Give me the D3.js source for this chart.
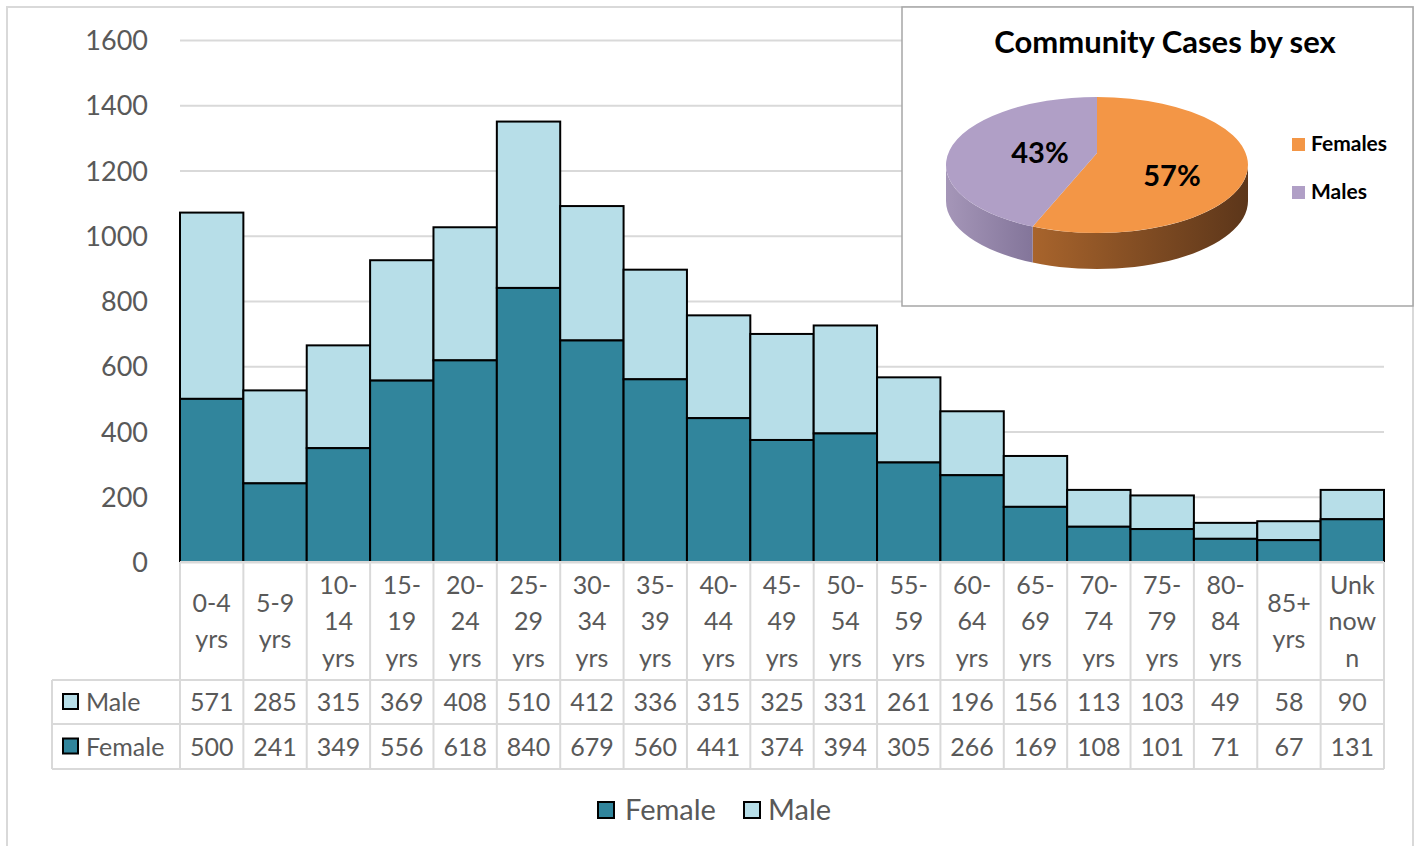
<!DOCTYPE html>
<html>
<head>
<meta charset="utf-8">
<script src="https://cdn.jsdelivr.net/npm/d3@7"></script>
<style>
  body { margin: 0; background: #fff; }
  svg { display: block; font-family: Lato, "Open Sans", sans-serif; }
</style>
</head>
<body>
<svg class="svg" width="1418" height="846"></svg>
<script>
// age groups, one entry per column, header lines as they wrap in the table
let ageLines = [['0-4','yrs'],['5-9','yrs'],['10-','14','yrs'],['15-','19','yrs'],['20-','24','yrs'],
    ['25-','29','yrs'],['30-','34','yrs'],['35-','39','yrs'],['40-','44','yrs'],['45-','49','yrs'],
    ['50-','54','yrs'],['55-','59','yrs'],['60-','64','yrs'],['65-','69','yrs'],['70-','74','yrs'],
    ['75-','79','yrs'],['80-','84','yrs'],['85+','yrs'],['Unk','now','n']];
let male   = [571,285,315,369,408,510,412,336,315,325,331,261,196,156,113,103,49,58,90];
let female = [500,241,349,556,618,840,679,560,441,374,394,305,266,169,108,101,71,67,131];
let yTicks = [0,200,400,600,800,1000,1200,1400,1600];

let pieLabels = ['Females','Males'];
let pieShare = [57,43];

let female_color = '#31859c', male_color = '#b7dee8', grid_color = '#d9d9d9', text_color = '#595959';
let pie_colors = ['#f39646','#b09fc6'];

let svg = d3.select('.svg');

// outer frame
svg.append('rect').attr('x',7).attr('y',7).attr('width',1406).attr('height',860)
    .attr('fill','none').attr('stroke',grid_color).attr('stroke-width',2);

let plotLeft = 180, plotRight = 1384, plotTop = 40, plotBottom = 562;
let x = d3.scaleBand().domain(d3.range(ageLines.length)).range([plotLeft,plotRight]).paddingInner(0);
let y = d3.scaleLinear().domain([0,1600]).range([plotBottom,plotTop]);

// y axis + gridlines
let yAxis = svg.append('g').attr('transform','translate('+plotLeft+',0)')
    .call(d3.axisLeft(y).tickValues(yTicks).tickFormat(d3.format('d'))
        .tickSize(-(plotRight-plotLeft)).tickPadding(32));
yAxis.select('.domain').remove();
yAxis.selectAll('line').attr('stroke',grid_color).attr('stroke-width',2);
yAxis.selectAll('text').attr('fill',text_color).style('font-size','27px')
    .attr('dy','0.36em').attr('font-family','Lato');

// stacked bars
for(let i = 0;i<ageLines.length;i++){
    svg.append('rect').attr('x',x(i)).attr('y',y(female[i]+male[i]))
        .attr('width',x.bandwidth()).attr('height',y(female[i])-y(female[i]+male[i]))
        .attr('fill',male_color).attr('stroke','#000').attr('stroke-width',2);
    svg.append('rect').attr('x',x(i)).attr('y',y(female[i]))
        .attr('width',x.bandwidth()).attr('height',y(0)-y(female[i]))
        .attr('fill',female_color).attr('stroke','#000').attr('stroke-width',2);
}

// data table
let rowTop = [562,680,724,769];
let tableLeft = 52;
let tbl = svg.append('g');
// horizontal lines
tbl.append('line').attr('x1',plotLeft).attr('x2',plotRight).attr('y1',rowTop[0]).attr('y2',rowTop[0]);
for(let r = 1;r<rowTop.length;r++){
    tbl.append('line').attr('x1',tableLeft).attr('x2',plotRight).attr('y1',rowTop[r]).attr('y2',rowTop[r]);
}
// vertical lines
tbl.append('line').attr('x1',tableLeft).attr('x2',tableLeft).attr('y1',rowTop[1]).attr('y2',rowTop[3]);
for(let i = 0;i<=ageLines.length;i++){
    let xx = i<ageLines.length ? x(i) : plotRight;
    tbl.append('line').attr('x1',xx).attr('x2',xx).attr('y1',rowTop[0]).attr('y2',rowTop[3]);
}
tbl.selectAll('line').attr('stroke',grid_color).attr('stroke-width',2);

let headMid = (rowTop[0]+rowTop[1])/2;
for(let i = 0;i<ageLines.length;i++){
    let cx = x(i)+x.bandwidth()/2;
    let n = ageLines[i].length;
    for(let j = 0;j<n;j++){
        svg.append('text').attr('x',cx).attr('y',headMid+9+(j-(n-1)/2)*36.5)
            .attr('text-anchor','middle').attr('fill',text_color).style('font-size','25px')
            .text(ageLines[i][j]);
    }
    svg.append('text').attr('x',cx).attr('y',(rowTop[1]+rowTop[2])/2+9)
        .attr('text-anchor','middle').attr('fill',text_color).style('font-size','25px').text(male[i]);
    svg.append('text').attr('x',cx).attr('y',(rowTop[2]+rowTop[3])/2+9)
        .attr('text-anchor','middle').attr('fill',text_color).style('font-size','25px').text(female[i]);
}
// row keys
let rows = [['Male',male_color],['Female',female_color]];
for(let r = 0;r<rows.length;r++){
    let mid = (rowTop[r+1]+rowTop[r+2])/2;
    svg.append('rect').attr('x',63).attr('y',mid-8).attr('width',15).attr('height',15)
        .attr('fill',rows[r][1]).attr('stroke','#000').attr('stroke-width',2);
    svg.append('text').attr('x',86).attr('y',mid+9).attr('fill',text_color)
        .style('font-size','25px').text(rows[r][0]);
}

// bottom legend
let legendItems = [['Female',female_color,598,625],['Male',male_color,744,768]];
legendItems.forEach(function (d) {
    svg.append('rect').attr('x',d[2]).attr('y',802).attr('width',16).attr('height',16)
        .attr('fill',d[1]).attr('stroke','#000').attr('stroke-width',2);
    svg.append('text').attr('x',d[3]).attr('y',820).attr('fill',text_color)
        .style('font-size','29px').text(d[0]);
});

// ---- inset 3D pie ----
svg.append('rect').attr('x',902).attr('y',7).attr('width',511).attr('height',299)
    .attr('fill','#fff').attr('stroke','#a6a6a6').attr('stroke-width',1.5);
svg.append('text').attr('x',1165).attr('y',53).attr('text-anchor','middle')
    .style('font-size','31px').style('font-weight','bold').attr('fill','#000')
    .text('Community Cases by sex');

let pcx = 1097, pcy = 165, rx = 151, ry = 68, depth = 36;
let hub = [1097,153];
function pt(a, dy) { return [pcx+rx*Math.sin(a), pcy-ry*Math.cos(a)+(dy||0)]; }

let arcs = d3.pie().sort(null)(pieShare);

let defs = svg.append('defs');
let g1 = defs.append('linearGradient').attr('id','sideOrange').attr('x1','0').attr('x2','1');
g1.append('stop').attr('offset','0').attr('stop-color','#a8642c');
g1.append('stop').attr('offset','1').attr('stop-color','#5c361a');
let g2 = defs.append('linearGradient').attr('id','sidePurple').attr('x1','0').attr('x2','1');
g2.append('stop').attr('offset','0').attr('stop-color','#a596b8');
g2.append('stop').attr('offset','1').attr('stop-color','#83759a');
let sideFill = ['url(#sideOrange)','url(#sidePurple)'];

let pie = svg.append('g');
// visible side walls (front half: 90deg to 270deg)
arcs.forEach(function (a, i) {
    let a0 = Math.max(a.startAngle, Math.PI/2), a1 = Math.min(a.endAngle, Math.PI*1.5);
    if(a1<=a0) return;
    let p0 = pt(a0), p1 = pt(a1), q1 = pt(a1,depth), q0 = pt(a0,depth);
    pie.append('path').attr('d','M'+p0+' A'+rx+','+ry+' 0 0 1 '+p1+' L'+q1+' A'+rx+','+ry+' 0 0 0 '+q0+' Z')
        .attr('fill',sideFill[i]);
});
// top faces
arcs.forEach(function (a, i) {
    let p0 = pt(a.startAngle), p1 = pt(a.endAngle);
    let large = (a.endAngle-a.startAngle)>Math.PI ? 1 : 0;
    pie.append('path').attr('d','M'+hub+' L'+p0+' A'+rx+','+ry+' 0 '+large+' 1 '+p1+' Z')
        .attr('fill',pie_colors[i]);
});
let pieText = [[1172,186],[1040,163]];
arcs.forEach(function (a, i) {
    svg.append('text').attr('x',pieText[i][0]).attr('y',pieText[i][1]).attr('text-anchor','middle')
        .style('font-size','29px').style('font-weight','bold').attr('fill','#000')
        .text(pieShare[i]+'%');
});
// pie legend
for(let i = 0;i<pieLabels.length;i++){
    svg.append('rect').attr('x',1292).attr('y',138+i*48).attr('width',13).attr('height',13)
        .attr('fill',pie_colors[i]);
    svg.append('text').attr('x',1311).attr('y',151+i*48).style('font-size','21px')
        .style('font-weight','bold').attr('fill','#000').text(pieLabels[i]);
}
</script>
</body>
</html>
